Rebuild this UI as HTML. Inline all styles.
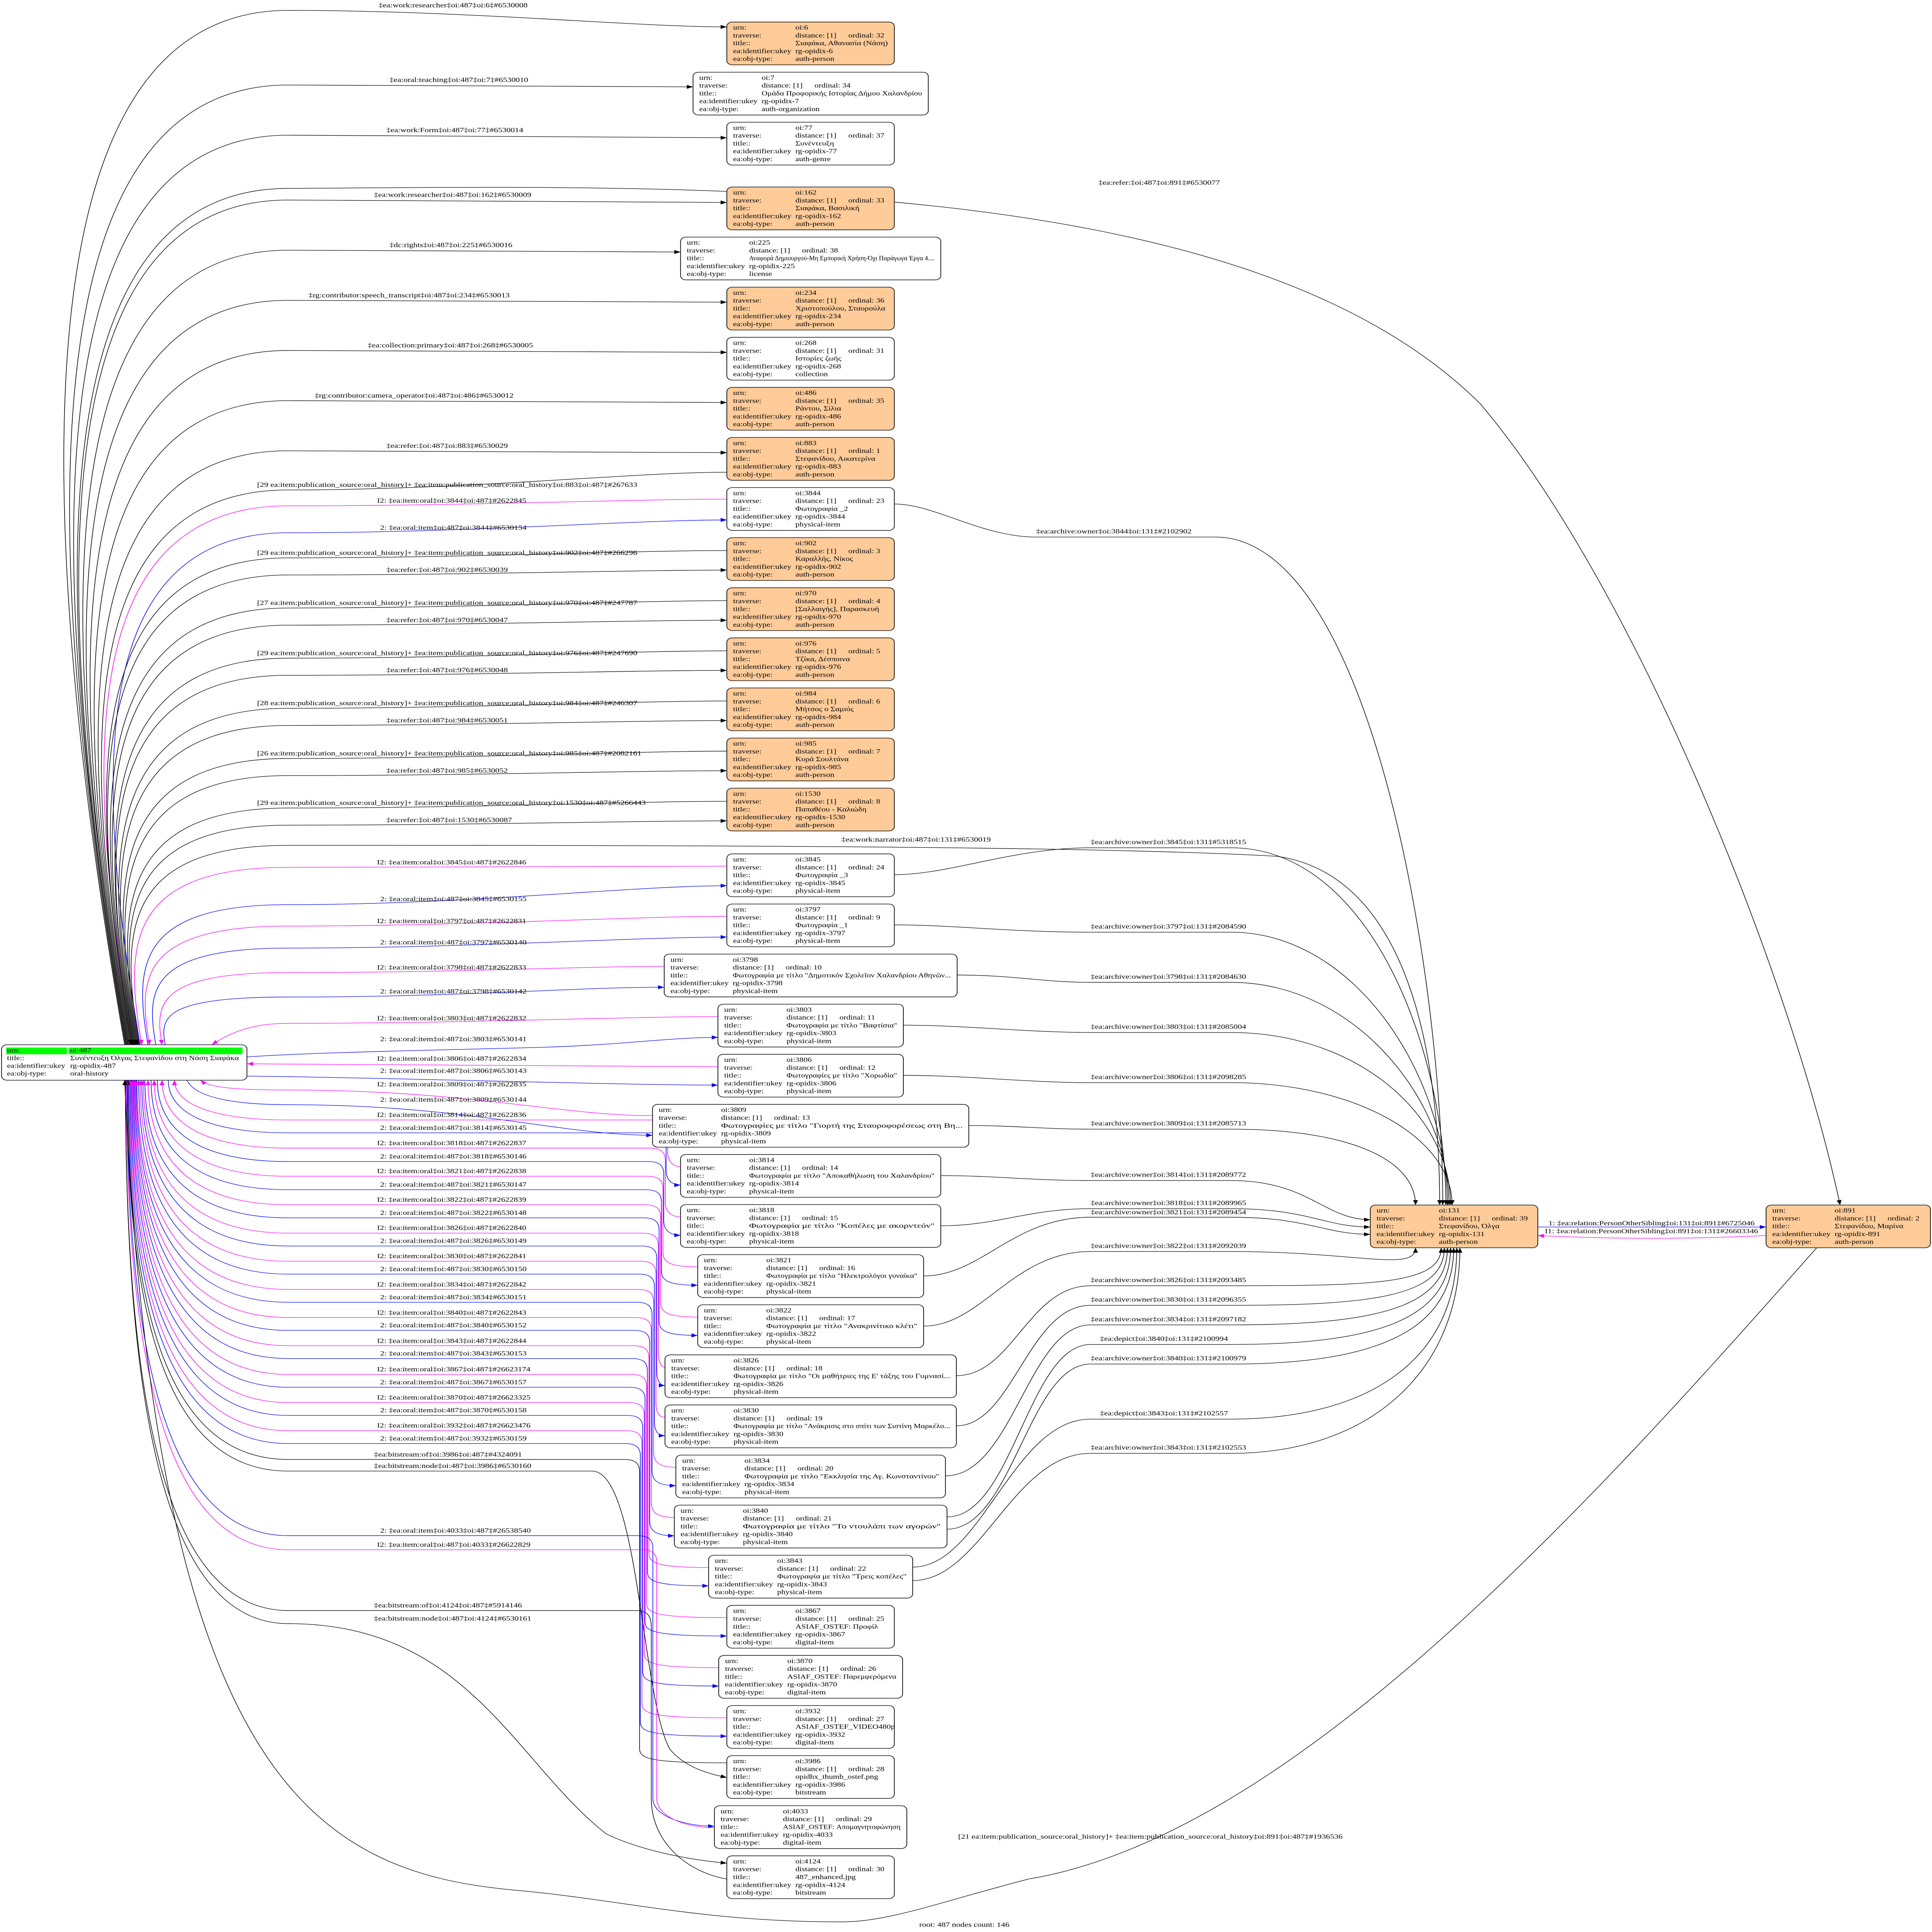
<!DOCTYPE html>
<html><head><meta charset="utf-8"><style>
html,body{margin:0;padding:0;background:#fff;overflow:hidden;width:100vw;height:100vh}
svg{display:block;width:100vw;height:100vh}
text{font-family:"Liberation Serif","DejaVu Serif",serif;fill:#000}
.t text{font-size:5.3px}
.l{font-size:5.4px}
.e{fill:none;stroke-width:.4}
.k{stroke:#000}.b{stroke:#00f}.m{stroke:#f0f}
.n{stroke:#000;stroke-width:.45}
.o{fill:#ffcc99}.w{fill:#fff}
</style></head><body>
<svg xmlns="http://www.w3.org/2000/svg" viewBox="0 0 1240 1579.27" preserveAspectRatio="none">
<defs>
<marker id="ak" viewBox="0 0 10 8" refX="10" refY="4" markerWidth="4" markerHeight="3.2" markerUnits="userSpaceOnUse" orient="auto-start-reverse"><path d="M0,0L10,4L0,8z" fill="#000"/></marker>
<marker id="ab" viewBox="0 0 10 8" refX="10" refY="4" markerWidth="4" markerHeight="3.2" markerUnits="userSpaceOnUse" orient="auto-start-reverse"><path d="M0,0L10,4L0,8z" fill="#00f"/></marker>
<marker id="am" viewBox="0 0 10 8" refX="10" refY="4" markerWidth="4" markerHeight="3.2" markerUnits="userSpaceOnUse" orient="auto-start-reverse"><path d="M0,0L10,4L0,8z" fill="#f0f"/></marker>
</defs>
<rect width="1240" height="1579.27" fill="#fff"/>

<!-- upper edges -->
<path class="e k" marker-end="url(#ak)" d="M80,854 C16.6,389 16.6,8.5 185,8.5 C300,8.5 406.5,22 466.5,22"/>
<path class="e k" marker-end="url(#ak)" d="M80.5,854 C21.7,422.5 21.7,69.5 185,69.5 C300,69.5 384.8,71 444.8,71"/>
<path class="e k" marker-end="url(#ak)" d="M81,854 C25.2,445 25.2,110.5 185,110.5 C300,110.5 406.5,112.6 466.5,112.6"/>
<path class="e k" marker-end="url(#ak)" d="M81,854 C28.5,469 28.5,154 185,154 C450,152 800,140 950,330 C1050,480 1150,800 1181,985"/>
<path class="e k" marker-end="url(#ak)" d="M81.5,854 C29.7,474 29.7,163.5 185,163.5 C300,163.5 406.5,165.5 466.5,165.5"/>
<path class="e k" marker-end="url(#ak)" d="M82,854 C33.3,497 33.3,204.5 185,204.5 C300,204.5 376.8,206 436.8,206"/>
<path class="e k" marker-end="url(#ak)" d="M82,854 C36.4,519 36.4,245.5 185,245.5 C300,245.5 406.5,247 466.5,247"/>
<path class="e k" marker-end="url(#ak)" d="M82.5,854 C39.9,542 39.9,286.5 185,286.5 C300,286.5 406.5,288 466.5,288"/>
<path class="e k" marker-end="url(#ak)" d="M83,854 C43.5,564 43.5,327.5 185,327.5 C300,327.5 406.5,329 466.5,329"/>
<path class="e k" marker-end="url(#ak)" d="M83.5,854 C47.1,587 47.1,368.5 185,368.5 C300,368.5 406.5,370 466.5,370"/>
<path class="e k" marker-start="url(#ak)" d="M84,854 C50,605 50,400.5 185,400.5 C300,400.5 406.5,386 466.5,386"/>
<path class="e m" marker-start="url(#am)" d="M85,854 C52,612 52,413.5 185,413.5 C300,413.5 406.5,408 466.5,408"/>
<path class="e b" marker-end="url(#ab)" d="M90,854 C58.6,624 58.6,435.5 185,435.5 C300,435.5 406.5,425 466.5,425"/>
<path class="e k" marker-start="url(#ak)" d="M84.5,854 C54.6,635 54.6,456 185,456 C300,456 406.5,450 466.5,450"/>
<path class="e k" marker-end="url(#ak)" d="M84.5,854 C55.7,643 55.7,470 185,470 C300,470 406.5,466 466.5,466"/>
<path class="e k" marker-start="url(#ak)" d="M85,854 C58.2,658 58.2,497 185,497 C300,497 406.5,491 466.5,491"/>
<path class="e k" marker-end="url(#ak)" d="M85.5,854 C59.8,665 59.8,511 185,511 C300,511 406.5,507 466.5,507"/>
<path class="e k" marker-start="url(#ak)" d="M86,854 C62.3,680 62.3,538 185,538 C300,538 406.5,532 466.5,532"/>
<path class="e k" marker-end="url(#ak)" d="M86,854 C63.3,688 63.3,552 185,552 C300,552 406.5,548 466.5,548"/>
<path class="e k" marker-start="url(#ak)" d="M86.5,854 C65.9,703 65.9,579 185,579 C300,579 406.5,573 466.5,573"/>
<path class="e k" marker-end="url(#ak)" d="M87,854 C67.4,710 67.4,593 185,593 C300,593 406.5,589 466.5,589"/>
<path class="e k" marker-start="url(#ak)" d="M87.5,854 C69.9,725 69.9,620 185,620 C300,620 406.5,614 466.5,614"/>
<path class="e k" marker-end="url(#ak)" d="M88,854 C71.5,733 71.5,634 185,634 C300,634 406.5,630 466.5,630"/>
<path class="e k" marker-start="url(#ak)" d="M88.5,854 C74,748 74,660.5 185,660.5 C300,660.5 406.5,655 466.5,655"/>
<path class="e k" marker-end="url(#ak)" d="M89,854 C75.5,755 75.5,674.5 185,674.5 C300,674.5 406.5,671 466.5,671"/>
<path class="e k" marker-end="url(#ak)" d="M89.5,854 C77.3,764 77.3,691 185,691 C400,691 700,691 820,700 C900,715 924,850 924,985"/>
<path class="e m" marker-start="url(#am)" d="M91,854 C80.1,774 80.1,709 185,709 C300,709 406.5,708 466.5,708"/>
<path class="e b" marker-end="url(#ab)" d="M95,854 C86.4,791 86.4,739.5 185,739.5 C300,739.5 406.5,724 466.5,724"/>
<path class="e m" marker-start="url(#am)" d="M96,854 C88.7,801 88.7,757 185,757 C300,757 406.5,749 466.5,749"/>
<path class="e b" marker-end="url(#ab)" d="M100,854 C94.1,810.5 94.1,775 185,775 C300,775 406.5,766 466.5,766"/>
<path class="e m" marker-start="url(#am)" d="M104,854 C99.6,821.5 99.6,795 185,795 C300,795 366.3,790 426.3,790"/>
<path class="e b" marker-end="url(#ab)" d="M106,854 C103,832.5 103,815 185,815 C300,815 366.3,807 426.3,807"/>
<path class="e m" marker-start="url(#am)" d="M136,854 C150,842 165,836.5 185,836.5 C300,836.5 400.8,831 460.8,831"/>
<path class="e b" marker-end="url(#ab)" d="M158.5,864 C200,860 300,858 350,856 C400,854 430,848 460.8,848"/>
<path class="e m" marker-start="url(#am)" d="M158.5,869.6 C250,870 400,872 460.8,872"/>
<path class="e b" marker-end="url(#ab)" d="M158.5,879.6 C250,881 400,887 460.8,887"/>
<path class="e m" marker-start="url(#am)" d="M128.6,883 C135,889 150,891 185,891 C300,891 360,912 418.8,912"/>
<path class="e b" marker-end="url(#ab)" d="M120,883 C125,897 150,903 185,903 C300,903 360,928 418.8,928"/>

<!-- lower edges -->
<path class="e m" marker-start="url(#am)" d="M112,883 C112,902.5 137,915.5 185,915.5 L418.5,915.5 C425.5,915.5 428.5,918.5 428.5,925.5 L428.5,941.7 C428.5,949.7 432.5,953.7 436.8,953.7"/>
<path class="e b" marker-end="url(#ab)" d="M108,883 C108,909 133,926 185,926 L417.5,926 C424.5,926 427.5,929 427.5,936 L427.5,956.7 C427.5,964.7 431.5,968.7 436.8,968.7"/>
<path class="e m" marker-start="url(#am)" d="M104,883 C104,916 129,938.5 185,938.5 L417,938.5 C424,938.5 427,941.5 427,948.5 L427,982.7 C427,990.7 431,994.7 436.8,994.7"/>
<path class="e b" marker-end="url(#ab)" d="M101,883 C101,923 126,949.5 185,949.5 L416,949.5 C423,949.5 426,952.5 426,959.5 L426,997.7 C426,1005.7 430,1009.7 436.8,1009.7"/>
<path class="e m" marker-start="url(#am)" d="M99,883 C99,930 124,961.5 185,961.5 L415.5,961.5 C422.5,961.5 425.5,964.5 425.5,971.5 L425.5,1023.6 C425.5,1031.6 429.5,1035.6 447.8,1035.6"/>
<path class="e b" marker-end="url(#ab)" d="M97,883 C97,937 122,972.5 185,972.5 L414.5,972.5 C421.5,972.5 424.5,975.5 424.5,982.5 L424.5,1038.6 C424.5,1046.6 428.5,1050.6 447.8,1050.6"/>
<path class="e m" marker-start="url(#am)" d="M95,883 C95,944 120,984.8 185,984.8 L414,984.8 C421,984.8 424,987.8 424,994.8 L424,1064.6 C424,1072.6 428,1076.6 447.8,1076.6"/>
<path class="e b" marker-end="url(#ab)" d="M93,883 C93,950.5 118,995.5 185,995.5 L413,995.5 C420,995.5 423,998.5 423,1005.5 L423,1079.6 C423,1087.6 427,1091.6 447.8,1091.6"/>
<path class="e m" marker-start="url(#am)" d="M92,883 C92,958 117,1008 185,1008 L412.5,1008 C419.5,1008 422.5,1011 422.5,1018 L422.5,1105.5 C422.5,1113.5 424.5,1117.5 426.8,1117.5"/>
<path class="e b" marker-end="url(#ab)" d="M91,883 C91,964 116,1018.5 185,1018.5 L411.5,1018.5 C418.5,1018.5 421.5,1021.5 421.5,1028.5 L421.5,1120.5 C421.5,1128.5 423.5,1132.5 426.8,1132.5"/>
<path class="e m" marker-start="url(#am)" d="M90,883 C90,972 115,1031 185,1031 L411,1031 C418,1031 421,1034 421,1041 L421,1146.5 C421,1154.5 423,1158.5 426.8,1158.5"/>
<path class="e b" marker-end="url(#ab)" d="M89,883 C89,978 114,1041.5 185,1041.5 L410,1041.5 C417,1041.5 420,1044.5 420,1051.5 L420,1161.5 C420,1169.5 422,1173.5 426.8,1173.5"/>
<path class="e m" marker-start="url(#am)" d="M88,883 C88,985.6 113,1054 185,1054 L409.5,1054 C416.5,1054 419.5,1057 419.5,1064 L419.5,1187.4 C419.5,1195.4 423.5,1199.4 433.8,1199.4"/>
<path class="e b" marker-end="url(#ab)" d="M87.5,883 C87.5,992 112.5,1064.5 185,1064.5 L408.5,1064.5 C415.5,1064.5 418.5,1067.5 418.5,1074.5 L418.5,1202.4 C418.5,1210.4 422.5,1214.4 433.8,1214.4"/>
<path class="e m" marker-start="url(#am)" d="M87,883 C87,999.4 112,1077 185,1077 L408,1077 C415,1077 418,1080 418,1087 L418,1228.4 C418,1236.4 422,1240.4 432.8,1240.4"/>
<path class="e b" marker-end="url(#ab)" d="M86.5,883 C86.5,1005.7 111.5,1087.5 185,1087.5 L407,1087.5 C414,1087.5 417,1090.5 417,1097.5 L417,1243.4 C417,1251.4 421,1255.4 432.8,1255.4"/>
<path class="e m" marker-start="url(#am)" d="M86,883 C86,1013 111,1100 185,1100 L406.5,1100 C413.5,1100 416.5,1103 416.5,1110 L416.5,1269.3 C416.5,1277.3 420.5,1281.3 454.8,1281.3"/>
<path class="e b" marker-end="url(#ab)" d="M85.5,883 C85.5,1019.5 110.5,1110.5 185,1110.5 L405.5,1110.5 C412.5,1110.5 415.5,1113.5 415.5,1120.5 L415.5,1284.3 C415.5,1292.3 419.5,1296.3 454.8,1296.3"/>
<path class="e m" marker-start="url(#am)" d="M85,883 C85,1027 110,1123.5 185,1123.5 L405,1123.5 C412,1123.5 415,1126.5 415,1133.5 L415,1310.3 C415,1318.3 419,1322.3 466.5,1322.3"/>
<path class="e b" marker-end="url(#ab)" d="M84.5,883 C84.5,1033.6 109.5,1134 185,1134 L404,1134 C411,1134 414,1137 414,1144 L414,1325.3 C414,1333.3 418,1337.3 466.5,1337.3"/>
<path class="e m" marker-start="url(#am)" d="M84,883 C84,1041 109,1146.5 185,1146.5 L403.5,1146.5 C410.5,1146.5 413.5,1149.5 413.5,1156.5 L413.5,1351.2 C413.5,1359.2 417.5,1363.2 461.3,1363.2"/>
<path class="e b" marker-end="url(#ab)" d="M83.5,883 C83.5,1047.4 108.5,1157 185,1157 L402.5,1157 C409.5,1157 412.5,1160 412.5,1167 L412.5,1366.2 C412.5,1374.2 416.5,1378.2 461.3,1378.2"/>
<path class="e m" marker-start="url(#am)" d="M83,883 C83,1055 108,1169.5 185,1169.5 L402,1169.5 C409,1169.5 412,1172.5 412,1179.5 L412,1392.2 C412,1400.2 416,1404.2 466.5,1404.2"/>
<path class="e b" marker-end="url(#ab)" d="M82.5,883 C82.5,1061 107.5,1180 185,1180 L401,1180 C408,1180 411,1183 411,1190 L411,1407.2 C411,1415.2 415,1419.2 466.5,1419.2"/>
<path class="e k" marker-start="url(#ak)" d="M82,883 C82,1069 107,1193 185,1193 L400.5,1193 C407.5,1193 410.5,1196 410.5,1203 L410.5,1429 C410.5,1437 414.5,1441 466.5,1441"/>
<path class="e k" marker-end="url(#ak)" d="M81.5,883 C81.5,1075 106.5,1202.5 185,1202.5 L380,1202.5 C410,1202.5 412,1390 430,1430 C440,1445 455,1450 466.5,1453"/>
<path class="e b" marker-end="url(#ab)" d="M81.5,883 C81.5,1106 106.5,1255.3 185,1255.3 L409,1255.3 C416,1255.3 419,1258.3 419,1265.3 L419,1470 C419,1485 440,1492.8 458.5,1492.8"/>
<path class="e m" marker-start="url(#am)" d="M81,883 C81,1113 106,1266.8 185,1266.8 L411.5,1266.8 C418.5,1266.8 421.5,1269.8 421.5,1276.8 L421.5,1470 C421.5,1485 440,1494 458.5,1494"/>
<path class="e k" marker-start="url(#ak)" d="M80.5,883 C80.5,1145 105.5,1316.5 185,1316.5 L408,1316.5 C415,1316.5 418,1320 418,1330 L418,1470 C418,1505 440,1530 466.5,1536"/>
<path class="e k" marker-end="url(#ak)" d="M80.5,883 C80.5,1150 105.5,1327.2 185,1327.2 C300,1327.2 330,1440 389,1499 C410,1512 440,1520 466.5,1523"/>
<path class="e k" marker-end="url(#ak)" d="M1166,1020 C1020,1230 830,1500 660,1536 C600,1556 570,1571 540,1571 C450,1571 400,1553 330,1545 C200,1530 100,1450 80,883"/>

<!-- archive edges to ai:131 -->
<path class="e k" marker-end="url(#ak)" d="M574,412 C600,412 630,439 665,439 L780,439 C880,439 926,800 926,985"/>
<path class="e k" marker-end="url(#ak)" d="M574,715 C610,715 650,693 700,693 L790,693 C880,693 928,860 928,985"/>
<path class="e k" marker-end="url(#ak)" d="M574,756 C610,756 650,762 700,762 L790,762 C870,762 929,880 929,985"/>
<path class="e k" marker-end="url(#ak)" d="M614.3,797 C650,797 670,803 700,803 L790,803 C870,803 930,900 930,985"/>
<path class="e k" marker-end="url(#ak)" d="M579.8,838 C620,838 660,844 700,844 L790,844 C870,844 931,910 931,985"/>
<path class="e k" marker-end="url(#ak)" d="M579.8,879 C620,879 660,885 700,885 L790,885 C870,885 932,930 932,985"/>
<path class="e k" marker-end="url(#ak)" d="M621.8,920 C650,920 670,923 700,923 L790,923 C870,923 908.5,950 908.5,985"/>
<path class="e k" marker-end="url(#ak)" d="M603.8,961 C640,961 660,965 700,965 L790,965 C840,965 850,997 879.5,997"/>
<path class="e k" marker-end="url(#ak)" d="M603.8,1002 C640,1002 660,988 700,988 L790,988 C840,988 850,1003 879.5,1003"/>
<path class="e k" marker-end="url(#ak)" d="M592.8,1043 C630,1043 650,995 700,995 L790,995 C840,995 850,1009 879.5,1009"/>
<path class="e k" marker-end="url(#ak)" d="M592.8,1084 C630,1084 650,1023 700,1023 L790,1023 C870,1023 908.5,1040 908.5,1020"/>
<path class="e k" marker-end="url(#ak)" d="M613.8,1124.5 C650,1124.5 660,1051 700,1051 L790,1051 C880,1051 925,1050 925,1020"/>
<path class="e k" marker-end="url(#ak)" d="M613.8,1165.5 C650,1165.5 660,1067 700,1067 L790,1067 C880,1067 927,1060 927,1020"/>
<path class="e k" marker-end="url(#ak)" d="M606.8,1206.4 C650,1206.4 660,1083 700,1083 L790,1083 C880,1083 929,1070 929,1020"/>
<path class="e k" marker-end="url(#ak)" d="M607.8,1240 C650,1240 660,1099 700,1099 L790,1099 C880,1099 931,1080 931,1020"/>
<path class="e k" marker-end="url(#ak)" d="M607.8,1250 C650,1250 660,1115 700,1115 L790,1115 C880,1115 933,1090 933,1020"/>
<path class="e k" marker-end="url(#ak)" d="M585.8,1281 C630,1281 650,1160 700,1160 L790,1160 C880,1160 935,1110 935,1020"/>
<path class="e k" marker-end="url(#ak)" d="M585.8,1292 C630,1292 650,1188 700,1188 L790,1188 C880,1188 937,1120 937,1020"/>
<path class="e b" marker-end="url(#ab)" d="M987,1003 L1133.5,1003"/>
<path class="e m" marker-end="url(#am)" d="M1133.5,1010 C1080,1013 1040,1013 987,1010"/>

<!-- edge labels -->
<g class="l">
<text x="243" y="6">‡ea:work:researcher‡oi:487‡oi:6‡#6530008</text>
<text x="250" y="67">‡ea:oral:teaching‡oi:487‡oi:7‡#6530010</text>
<text x="248" y="108">‡ea:work:Form‡oi:487‡oi:77‡#6530014</text>
<text x="705" y="151">‡ea:refer:‡oi:487‡oi:891‡#6530077</text>
<text x="240" y="161">‡ea:work:researcher‡oi:487‡oi:162‡#6530009</text>
<text x="250" y="202">‡dc:rights‡oi:487‡oi:225‡#6530016</text>
<text x="198" y="243">‡rg:contributor:speech_transcript‡oi:487‡oi:234‡#6530013</text>
<text x="236" y="284">‡ea:collection:primary‡oi:487‡oi:268‡#6530005</text>
<text x="202" y="325">‡rg:contributor:camera_operator‡oi:487‡oi:486‡#6530012</text>
<text x="248" y="366">‡ea:refer:‡oi:487‡oi:883‡#6530029</text>
<text x="165" y="398">[29 ea:item:publication_source:oral_history]+ ‡ea:item:publication_source:oral_history‡oi:883‡oi:487‡#267633</text>
<text x="242" y="411">I2: ‡ea:item:oral‡oi:3844‡oi:487‡#2622845</text>
<text x="244" y="433">2: ‡ea:oral:item‡oi:487‡oi:3844‡#6530154</text>
<text x="165" y="453.5">[29 ea:item:publication_source:oral_history]+ ‡ea:item:publication_source:oral_history‡oi:902‡oi:487‡#266296</text>
<text x="248" y="467.5">‡ea:refer:‡oi:487‡oi:902‡#6530039</text>
<text x="165" y="494.5">[27 ea:item:publication_source:oral_history]+ ‡ea:item:publication_source:oral_history‡oi:970‡oi:487‡#247787</text>
<text x="248" y="508.5">‡ea:refer:‡oi:487‡oi:970‡#6530047</text>
<text x="165" y="535.5">[29 ea:item:publication_source:oral_history]+ ‡ea:item:publication_source:oral_history‡oi:976‡oi:487‡#247690</text>
<text x="248" y="549.5">‡ea:refer:‡oi:487‡oi:976‡#6530048</text>
<text x="165" y="576.5">[28 ea:item:publication_source:oral_history]+ ‡ea:item:publication_source:oral_history‡oi:984‡oi:487‡#246307</text>
<text x="248" y="590.5">‡ea:refer:‡oi:487‡oi:984‡#6530051</text>
<text x="165" y="617.5">[26 ea:item:publication_source:oral_history]+ ‡ea:item:publication_source:oral_history‡oi:985‡oi:487‡#2082161</text>
<text x="248" y="631.5">‡ea:refer:‡oi:487‡oi:985‡#6530052</text>
<text x="165" y="658">[29 ea:item:publication_source:oral_history]+ ‡ea:item:publication_source:oral_history‡oi:1530‡oi:487‡#5266443</text>
<text x="248" y="672">‡ea:refer:‡oi:487‡oi:1530‡#6530087</text>
<text x="540" y="688">‡ea:work:narrator‡oi:487‡oi:131‡#6530019</text>
<text x="242" y="706.5">I2: ‡ea:item:oral‡oi:3845‡oi:487‡#2622846</text>
<text x="244" y="736.6">2: ‡ea:oral:item‡oi:487‡oi:3845‡#6530155</text>
<text x="242" y="754.5">I2: ‡ea:item:oral‡oi:3797‡oi:487‡#2622831</text>
<text x="244" y="772">2: ‡ea:oral:item‡oi:487‡oi:3797‡#6530140</text>
<text x="242" y="792.5">I2: ‡ea:item:oral‡oi:3798‡oi:487‡#2622833</text>
<text x="244" y="812">2: ‡ea:oral:item‡oi:487‡oi:3798‡#6530142</text>
<text x="242" y="834">I2: ‡ea:item:oral‡oi:3803‡oi:487‡#2622832</text>
<text x="244" y="851">2: ‡ea:oral:item‡oi:487‡oi:3803‡#6530141</text>
<text x="242" y="867">I2: ‡ea:item:oral‡oi:3806‡oi:487‡#2622834</text>
<text x="244" y="877">2: ‡ea:oral:item‡oi:487‡oi:3806‡#6530143</text>
<text x="242" y="888">I2: ‡ea:item:oral‡oi:3809‡oi:487‡#2622835</text>
<text x="244" y="900.5">2: ‡ea:oral:item‡oi:487‡oi:3809‡#6530144</text>
<text x="242" y="913">I2: ‡ea:item:oral‡oi:3814‡oi:487‡#2622836</text>
<text x="244" y="923.6">2: ‡ea:oral:item‡oi:487‡oi:3814‡#6530145</text>
<text x="242" y="936">I2: ‡ea:item:oral‡oi:3818‡oi:487‡#2622837</text>
<text x="244" y="947">2: ‡ea:oral:item‡oi:487‡oi:3818‡#6530146</text>
<text x="242" y="959">I2: ‡ea:item:oral‡oi:3821‡oi:487‡#2622838</text>
<text x="244" y="970">2: ‡ea:oral:item‡oi:487‡oi:3821‡#6530147</text>
<text x="242" y="982.3">I2: ‡ea:item:oral‡oi:3822‡oi:487‡#2622839</text>
<text x="244" y="993">2: ‡ea:oral:item‡oi:487‡oi:3822‡#6530148</text>
<text x="242" y="1005.4">I2: ‡ea:item:oral‡oi:3826‡oi:487‡#2622840</text>
<text x="244" y="1016">2: ‡ea:oral:item‡oi:487‡oi:3826‡#6530149</text>
<text x="242" y="1028.5">I2: ‡ea:item:oral‡oi:3830‡oi:487‡#2622841</text>
<text x="244" y="1039">2: ‡ea:oral:item‡oi:487‡oi:3830‡#6530150</text>
<text x="242" y="1051.6">I2: ‡ea:item:oral‡oi:3834‡oi:487‡#2622842</text>
<text x="244" y="1062">2: ‡ea:oral:item‡oi:487‡oi:3834‡#6530151</text>
<text x="242" y="1074.7">I2: ‡ea:item:oral‡oi:3840‡oi:487‡#2622843</text>
<text x="244" y="1085">2: ‡ea:oral:item‡oi:487‡oi:3840‡#6530152</text>
<text x="242" y="1097.8">I2: ‡ea:item:oral‡oi:3843‡oi:487‡#2622844</text>
<text x="244" y="1108">2: ‡ea:oral:item‡oi:487‡oi:3843‡#6530153</text>
<text x="242" y="1121">I2: ‡ea:item:oral‡oi:3867‡oi:487‡#26623174</text>
<text x="244" y="1131.5">2: ‡ea:oral:item‡oi:487‡oi:3867‡#6530157</text>
<text x="242" y="1144">I2: ‡ea:item:oral‡oi:3870‡oi:487‡#26623325</text>
<text x="244" y="1154.5">2: ‡ea:oral:item‡oi:487‡oi:3870‡#6530158</text>
<text x="242" y="1167">I2: ‡ea:item:oral‡oi:3932‡oi:487‡#26623476</text>
<text x="244" y="1177.5">2: ‡ea:oral:item‡oi:487‡oi:3932‡#6530159</text>
<text x="240" y="1190.6">‡ea:bitstream:of‡oi:3986‡oi:487‡#4324091</text>
<text x="240" y="1200">‡ea:bitstream:node‡oi:487‡oi:3986‡#6530160</text>
<text x="244" y="1252.8">2: ‡ea:oral:item‡oi:4033‡oi:487‡#26538540</text>
<text x="242" y="1264.3">I2: ‡ea:item:oral‡oi:487‡oi:4033‡#26622829</text>
<text x="240" y="1314">‡ea:bitstream:of‡oi:4124‡oi:487‡#5914146</text>
<text x="240" y="1324.7">‡ea:bitstream:node‡oi:487‡oi:4124‡#6530161</text>
<text x="615" y="1503">[21 ea:item:publication_source:oral_history]+ ‡ea:item:publication_source:oral_history‡oi:891‡oi:487‡#1936536</text>
<text x="665" y="436">‡ea:archive:owner‡oi:3844‡oi:131‡#2102902</text>
<text x="700" y="690">‡ea:archive:owner‡oi:3845‡oi:131‡#5318515</text>
<text x="700" y="759">‡ea:archive:owner‡oi:3797‡oi:131‡#2084590</text>
<text x="700" y="800">‡ea:archive:owner‡oi:3798‡oi:131‡#2084630</text>
<text x="700" y="841">‡ea:archive:owner‡oi:3803‡oi:131‡#2085004</text>
<text x="700" y="882">‡ea:archive:owner‡oi:3806‡oi:131‡#2098285</text>
<text x="700" y="920">‡ea:archive:owner‡oi:3809‡oi:131‡#2085713</text>
<text x="700" y="962">‡ea:archive:owner‡oi:3814‡oi:131‡#2089772</text>
<text x="700" y="985">‡ea:archive:owner‡oi:3818‡oi:131‡#2089965</text>
<text x="700" y="992.5">‡ea:archive:owner‡oi:3821‡oi:131‡#2089454</text>
<text x="700" y="1020">‡ea:archive:owner‡oi:3822‡oi:131‡#2092039</text>
<text x="700" y="1048">‡ea:archive:owner‡oi:3826‡oi:131‡#2093485</text>
<text x="700" y="1064">‡ea:archive:owner‡oi:3830‡oi:131‡#2096355</text>
<text x="700" y="1080">‡ea:archive:owner‡oi:3834‡oi:131‡#2097182</text>
<text x="706" y="1096">‡ea:depict‡oi:3840‡oi:131‡#2100994</text>
<text x="700" y="1112">‡ea:archive:owner‡oi:3840‡oi:131‡#2100979</text>
<text x="706" y="1157">‡ea:depict‡oi:3843‡oi:131‡#2102557</text>
<text x="700" y="1185">‡ea:archive:owner‡oi:3843‡oi:131‡#2102553</text>
<text x="1060" y="1001.5" text-anchor="middle">1: ‡ea:relation:PersonOtherSibling‡oi:131‡oi:891‡#6725046</text>
<text x="1060" y="1008" text-anchor="middle">I1: ‡ea:relation:PersonOtherSibling‡oi:891‡oi:131‡#26603346</text>
<text x="590" y="1575">root: 487 nodes count: 146</text>
</g>

<!-- root node -->
<g class="t" transform="translate(1,854)">
<rect class="n w" x="0" y="0" width="157.5" height="29" rx="3.5"/>
<rect x="3" y="2.3" width="39" height="5.5" fill="#0f0"/>
<rect x="43" y="2.3" width="111.6" height="5.5" fill="#0f0"/>
<text x="3.5" y="6.2">urn:</text><text x="44" y="6.2">oi:487</text>
<text x="3.5" y="12.6">title::</text><text x="44" y="12.6">Συνέντευξη Όλγας Στεφανίδου στη Νάση Σιαφάκα</text>
<text x="3.5" y="18.9">ea:identifier:ukey</text><text x="44" y="18.9">rg-opidix-487</text>
<text x="3.5" y="25.2">ea:obj-type:</text><text x="44" y="25.2">oral-history</text>
</g>

<!-- nodes -->
<g class="t" transform="translate(466.5,18)"><rect class="n o" width="107.5" height="35" rx="3.5"/><text x="4" y="6.2">urn:</text><text x="44" y="6.2">oi:6</text><text x="4" y="12.6">traverse:</text><text x="44" y="12.6">distance: [1]</text><text x="78" y="12.6">ordinal: 32</text><text x="4" y="19">title::</text><text x="44" y="19">Σιαφάκα, Αθανασία (Νάση)</text><text x="4" y="25.4">ea:identifier:ukey</text><text x="44" y="25.4">rg-opidix-6</text><text x="4" y="31.8">ea:obj-type:</text><text x="44" y="31.8">auth-person</text></g>
<g class="t" transform="translate(444.8,59)"><rect class="n w" width="151" height="35" rx="3.5"/><text x="4" y="6.2">urn:</text><text x="44" y="6.2">oi:7</text><text x="4" y="12.6">traverse:</text><text x="44" y="12.6">distance: [1]</text><text x="78" y="12.6">ordinal: 34</text><text x="4" y="19">title::</text><text x="44" y="19" textLength="103" lengthAdjust="spacingAndGlyphs">Ομάδα Προφορικής Ιστορίας Δήμου Χαλανδρίου</text><text x="4" y="25.4">ea:identifier:ukey</text><text x="44" y="25.4">rg-opidix-7</text><text x="4" y="31.8">ea:obj-type:</text><text x="44" y="31.8">auth-organization</text></g>
<g class="t" transform="translate(466.5,99.9)"><rect class="n w" width="107.5" height="35" rx="3.5"/><text x="4" y="6.2">urn:</text><text x="44" y="6.2">oi:77</text><text x="4" y="12.6">traverse:</text><text x="44" y="12.6">distance: [1]</text><text x="78" y="12.6">ordinal: 37</text><text x="4" y="19">title::</text><text x="44" y="19">Συνέντευξη</text><text x="4" y="25.4">ea:identifier:ukey</text><text x="44" y="25.4">rg-opidix-77</text><text x="4" y="31.8">ea:obj-type:</text><text x="44" y="31.8">auth-genre</text></g>
<g class="t" transform="translate(466.5,152.85)"><rect class="n o" width="107.5" height="35" rx="3.5"/><text x="4" y="6.2">urn:</text><text x="44" y="6.2">oi:162</text><text x="4" y="12.6">traverse:</text><text x="44" y="12.6">distance: [1]</text><text x="78" y="12.6">ordinal: 33</text><text x="4" y="19">title::</text><text x="44" y="19">Σιαφάκα, Βασιλική</text><text x="4" y="25.4">ea:identifier:ukey</text><text x="44" y="25.4">rg-opidix-162</text><text x="4" y="31.8">ea:obj-type:</text><text x="44" y="31.8">auth-person</text></g>
<g class="t" transform="translate(436.8,193.8)"><rect class="n w" width="167" height="35" rx="3.5"/><text x="4" y="6.2">urn:</text><text x="44" y="6.2">oi:225</text><text x="4" y="12.6">traverse:</text><text x="44" y="12.6">distance: [1]</text><text x="78" y="12.6">ordinal: 38</text><text x="4" y="19">title::</text><text x="44" y="19" textLength="119" lengthAdjust="spacingAndGlyphs">Αναφορά Δημιουργού-Μη Εμπορική Χρήση-Όχι Παράγωγα Έργα 4....</text><text x="4" y="25.4">ea:identifier:ukey</text><text x="44" y="25.4">rg-opidix-225</text><text x="4" y="31.8">ea:obj-type:</text><text x="44" y="31.8">license</text></g>
<g class="t" transform="translate(466.5,234.75)"><rect class="n o" width="107.5" height="35" rx="3.5"/><text x="4" y="6.2">urn:</text><text x="44" y="6.2">oi:234</text><text x="4" y="12.6">traverse:</text><text x="44" y="12.6">distance: [1]</text><text x="78" y="12.6">ordinal: 36</text><text x="4" y="19">title::</text><text x="44" y="19">Χριστοπούλου, Σταυρούλα</text><text x="4" y="25.4">ea:identifier:ukey</text><text x="44" y="25.4">rg-opidix-234</text><text x="4" y="31.8">ea:obj-type:</text><text x="44" y="31.8">auth-person</text></g>
<g class="t" transform="translate(466.5,275.7)"><rect class="n w" width="107.5" height="35" rx="3.5"/><text x="4" y="6.2">urn:</text><text x="44" y="6.2">oi:268</text><text x="4" y="12.6">traverse:</text><text x="44" y="12.6">distance: [1]</text><text x="78" y="12.6">ordinal: 31</text><text x="4" y="19">title::</text><text x="44" y="19">Ιστορίες ζωής</text><text x="4" y="25.4">ea:identifier:ukey</text><text x="44" y="25.4">rg-opidix-268</text><text x="4" y="31.8">ea:obj-type:</text><text x="44" y="31.8">collection</text></g>
<g class="t" transform="translate(466.5,316.65)"><rect class="n o" width="107.5" height="35" rx="3.5"/><text x="4" y="6.2">urn:</text><text x="44" y="6.2">oi:486</text><text x="4" y="12.6">traverse:</text><text x="44" y="12.6">distance: [1]</text><text x="78" y="12.6">ordinal: 35</text><text x="4" y="19">title::</text><text x="44" y="19">Ράντου, Σίλια</text><text x="4" y="25.4">ea:identifier:ukey</text><text x="44" y="25.4">rg-opidix-486</text><text x="4" y="31.8">ea:obj-type:</text><text x="44" y="31.8">auth-person</text></g>
<g class="t" transform="translate(466.5,357.6)"><rect class="n o" width="107.5" height="35" rx="3.5"/><text x="4" y="6.2">urn:</text><text x="44" y="6.2">oi:883</text><text x="4" y="12.6">traverse:</text><text x="44" y="12.6">distance: [1]</text><text x="78" y="12.6">ordinal: 1</text><text x="4" y="19">title::</text><text x="44" y="19">Στεφανίδου, Αικατερίνα</text><text x="4" y="25.4">ea:identifier:ukey</text><text x="44" y="25.4">rg-opidix-883</text><text x="4" y="31.8">ea:obj-type:</text><text x="44" y="31.8">auth-person</text></g>
<g class="t" transform="translate(466.5,398.55)"><rect class="n w" width="107.5" height="35" rx="3.5"/><text x="4" y="6.2">urn:</text><text x="44" y="6.2">oi:3844</text><text x="4" y="12.6">traverse:</text><text x="44" y="12.6">distance: [1]</text><text x="78" y="12.6">ordinal: 23</text><text x="4" y="19">title::</text><text x="44" y="19">Φωτογραφία _2</text><text x="4" y="25.4">ea:identifier:ukey</text><text x="44" y="25.4">rg-opidix-3844</text><text x="4" y="31.8">ea:obj-type:</text><text x="44" y="31.8">physical-item</text></g>
<g class="t" transform="translate(466.5,439.5)"><rect class="n o" width="107.5" height="35" rx="3.5"/><text x="4" y="6.2">urn:</text><text x="44" y="6.2">oi:902</text><text x="4" y="12.6">traverse:</text><text x="44" y="12.6">distance: [1]</text><text x="78" y="12.6">ordinal: 3</text><text x="4" y="19">title::</text><text x="44" y="19">Καραλλής, Νίκος</text><text x="4" y="25.4">ea:identifier:ukey</text><text x="44" y="25.4">rg-opidix-902</text><text x="4" y="31.8">ea:obj-type:</text><text x="44" y="31.8">auth-person</text></g>
<g class="t" transform="translate(466.5,480.45)"><rect class="n o" width="107.5" height="35" rx="3.5"/><text x="4" y="6.2">urn:</text><text x="44" y="6.2">oi:970</text><text x="4" y="12.6">traverse:</text><text x="44" y="12.6">distance: [1]</text><text x="78" y="12.6">ordinal: 4</text><text x="4" y="19">title::</text><text x="44" y="19">[Σαλλαιγής], Παρασκευή</text><text x="4" y="25.4">ea:identifier:ukey</text><text x="44" y="25.4">rg-opidix-970</text><text x="4" y="31.8">ea:obj-type:</text><text x="44" y="31.8">auth-person</text></g>
<g class="t" transform="translate(466.5,521.4)"><rect class="n o" width="107.5" height="35" rx="3.5"/><text x="4" y="6.2">urn:</text><text x="44" y="6.2">oi:976</text><text x="4" y="12.6">traverse:</text><text x="44" y="12.6">distance: [1]</text><text x="78" y="12.6">ordinal: 5</text><text x="4" y="19">title::</text><text x="44" y="19">Τζίκα, Δέσποινα</text><text x="4" y="25.4">ea:identifier:ukey</text><text x="44" y="25.4">rg-opidix-976</text><text x="4" y="31.8">ea:obj-type:</text><text x="44" y="31.8">auth-person</text></g>
<g class="t" transform="translate(466.5,562.35)"><rect class="n o" width="107.5" height="35" rx="3.5"/><text x="4" y="6.2">urn:</text><text x="44" y="6.2">oi:984</text><text x="4" y="12.6">traverse:</text><text x="44" y="12.6">distance: [1]</text><text x="78" y="12.6">ordinal: 6</text><text x="4" y="19">title::</text><text x="44" y="19">Μήτσος ο Σαμιός</text><text x="4" y="25.4">ea:identifier:ukey</text><text x="44" y="25.4">rg-opidix-984</text><text x="4" y="31.8">ea:obj-type:</text><text x="44" y="31.8">auth-person</text></g>
<g class="t" transform="translate(466.5,603.3)"><rect class="n o" width="107.5" height="35" rx="3.5"/><text x="4" y="6.2">urn:</text><text x="44" y="6.2">oi:985</text><text x="4" y="12.6">traverse:</text><text x="44" y="12.6">distance: [1]</text><text x="78" y="12.6">ordinal: 7</text><text x="4" y="19">title::</text><text x="44" y="19">Κυρά Σουλτάνα</text><text x="4" y="25.4">ea:identifier:ukey</text><text x="44" y="25.4">rg-opidix-985</text><text x="4" y="31.8">ea:obj-type:</text><text x="44" y="31.8">auth-person</text></g>
<g class="t" transform="translate(466.5,644.25)"><rect class="n o" width="107.5" height="35" rx="3.5"/><text x="4" y="6.2">urn:</text><text x="44" y="6.2">oi:1530</text><text x="4" y="12.6">traverse:</text><text x="44" y="12.6">distance: [1]</text><text x="78" y="12.6">ordinal: 8</text><text x="4" y="19">title::</text><text x="44" y="19">Παπαθέου - Καλιώδη</text><text x="4" y="25.4">ea:identifier:ukey</text><text x="44" y="25.4">rg-opidix-1530</text><text x="4" y="31.8">ea:obj-type:</text><text x="44" y="31.8">auth-person</text></g>
<g class="t" transform="translate(466.5,698)"><rect class="n w" width="107.5" height="35" rx="3.5"/><text x="4" y="6.2">urn:</text><text x="44" y="6.2">oi:3845</text><text x="4" y="12.6">traverse:</text><text x="44" y="12.6">distance: [1]</text><text x="78" y="12.6">ordinal: 24</text><text x="4" y="19">title::</text><text x="44" y="19">Φωτογραφία _3</text><text x="4" y="25.4">ea:identifier:ukey</text><text x="44" y="25.4">rg-opidix-3845</text><text x="4" y="31.8">ea:obj-type:</text><text x="44" y="31.8">physical-item</text></g>
<g class="t" transform="translate(466.5,738.95)"><rect class="n w" width="107.5" height="35" rx="3.5"/><text x="4" y="6.2">urn:</text><text x="44" y="6.2">oi:3797</text><text x="4" y="12.6">traverse:</text><text x="44" y="12.6">distance: [1]</text><text x="78" y="12.6">ordinal: 9</text><text x="4" y="19">title::</text><text x="44" y="19">Φωτογραφία _1</text><text x="4" y="25.4">ea:identifier:ukey</text><text x="44" y="25.4">rg-opidix-3797</text><text x="4" y="31.8">ea:obj-type:</text><text x="44" y="31.8">physical-item</text></g>
<g class="t" transform="translate(426.3,779.9)"><rect class="n w" width="188" height="35" rx="3.5"/><text x="4" y="6.2">urn:</text><text x="44" y="6.2">oi:3798</text><text x="4" y="12.6">traverse:</text><text x="44" y="12.6">distance: [1]</text><text x="78" y="12.6">ordinal: 10</text><text x="4" y="19">title::</text><text x="44" y="19" textLength="140" lengthAdjust="spacingAndGlyphs">Φωτογραφία με τίτλο &quot;Δημοτικόν Σχολεῖον Χαλανδρίου Αθηνῶν...</text><text x="4" y="25.4">ea:identifier:ukey</text><text x="44" y="25.4">rg-opidix-3798</text><text x="4" y="31.8">ea:obj-type:</text><text x="44" y="31.8">physical-item</text></g>
<g class="t" transform="translate(460.8,820.85)"><rect class="n w" width="119" height="35" rx="3.5"/><text x="4" y="6.2">urn:</text><text x="44" y="6.2">oi:3803</text><text x="4" y="12.6">traverse:</text><text x="44" y="12.6">distance: [1]</text><text x="78" y="12.6">ordinal: 11</text><text x="4" y="19">title::</text><text x="44" y="19" textLength="71" lengthAdjust="spacingAndGlyphs">Φωτογραφία με τίτλο &quot;Βαφτίσια&quot;</text><text x="4" y="25.4">ea:identifier:ukey</text><text x="44" y="25.4">rg-opidix-3803</text><text x="4" y="31.8">ea:obj-type:</text><text x="44" y="31.8">physical-item</text></g>
<g class="t" transform="translate(460.8,861.8)"><rect class="n w" width="119" height="35" rx="3.5"/><text x="4" y="6.2">urn:</text><text x="44" y="6.2">oi:3806</text><text x="4" y="12.6">traverse:</text><text x="44" y="12.6">distance: [1]</text><text x="78" y="12.6">ordinal: 12</text><text x="4" y="19">title::</text><text x="44" y="19" textLength="71" lengthAdjust="spacingAndGlyphs">Φωτογραφίες με τίτλο &quot;Χορωδία&quot;</text><text x="4" y="25.4">ea:identifier:ukey</text><text x="44" y="25.4">rg-opidix-3806</text><text x="4" y="31.8">ea:obj-type:</text><text x="44" y="31.8">physical-item</text></g>
<g class="t" transform="translate(418.8,902.75)"><rect class="n w" width="203" height="35" rx="3.5"/><text x="4" y="6.2">urn:</text><text x="44" y="6.2">oi:3809</text><text x="4" y="12.6">traverse:</text><text x="44" y="12.6">distance: [1]</text><text x="78" y="12.6">ordinal: 13</text><text x="4" y="19">title::</text><text x="44" y="19" textLength="155" lengthAdjust="spacingAndGlyphs">Φωτογραφίες με τίτλο &quot;Γιορτή της Σταυροφορέσεως στη Βη...</text><text x="4" y="25.4">ea:identifier:ukey</text><text x="44" y="25.4">rg-opidix-3809</text><text x="4" y="31.8">ea:obj-type:</text><text x="44" y="31.8">physical-item</text></g>
<g class="t" transform="translate(436.8,943.7)"><rect class="n w" width="167" height="35" rx="3.5"/><text x="4" y="6.2">urn:</text><text x="44" y="6.2">oi:3814</text><text x="4" y="12.6">traverse:</text><text x="44" y="12.6">distance: [1]</text><text x="78" y="12.6">ordinal: 14</text><text x="4" y="19">title::</text><text x="44" y="19" textLength="119" lengthAdjust="spacingAndGlyphs">Φωτογραφία με τίτλο &quot;Αποκαθήλωση του Χαλανδρίου&quot;</text><text x="4" y="25.4">ea:identifier:ukey</text><text x="44" y="25.4">rg-opidix-3814</text><text x="4" y="31.8">ea:obj-type:</text><text x="44" y="31.8">physical-item</text></g>
<g class="t" transform="translate(436.8,984.65)"><rect class="n w" width="167" height="35" rx="3.5"/><text x="4" y="6.2">urn:</text><text x="44" y="6.2">oi:3818</text><text x="4" y="12.6">traverse:</text><text x="44" y="12.6">distance: [1]</text><text x="78" y="12.6">ordinal: 15</text><text x="4" y="19">title::</text><text x="44" y="19" textLength="119" lengthAdjust="spacingAndGlyphs">Φωτογραφία με τίτλο &quot;Κοπέλες με ακορντεόν&quot;</text><text x="4" y="25.4">ea:identifier:ukey</text><text x="44" y="25.4">rg-opidix-3818</text><text x="4" y="31.8">ea:obj-type:</text><text x="44" y="31.8">physical-item</text></g>
<g class="t" transform="translate(447.8,1025.6)"><rect class="n w" width="145" height="35" rx="3.5"/><text x="4" y="6.2">urn:</text><text x="44" y="6.2">oi:3821</text><text x="4" y="12.6">traverse:</text><text x="44" y="12.6">distance: [1]</text><text x="78" y="12.6">ordinal: 16</text><text x="4" y="19">title::</text><text x="44" y="19" textLength="97" lengthAdjust="spacingAndGlyphs">Φωτογραφία με τίτλο &quot;Ηλεκτρολόγοι γυναίκα&quot;</text><text x="4" y="25.4">ea:identifier:ukey</text><text x="44" y="25.4">rg-opidix-3821</text><text x="4" y="31.8">ea:obj-type:</text><text x="44" y="31.8">physical-item</text></g>
<g class="t" transform="translate(447.8,1066.55)"><rect class="n w" width="145" height="35" rx="3.5"/><text x="4" y="6.2">urn:</text><text x="44" y="6.2">oi:3822</text><text x="4" y="12.6">traverse:</text><text x="44" y="12.6">distance: [1]</text><text x="78" y="12.6">ordinal: 17</text><text x="4" y="19">title::</text><text x="44" y="19" textLength="97" lengthAdjust="spacingAndGlyphs">Φωτογραφία με τίτλο &quot;Ανακρινίτικο κλέτι&quot;</text><text x="4" y="25.4">ea:identifier:ukey</text><text x="44" y="25.4">rg-opidix-3822</text><text x="4" y="31.8">ea:obj-type:</text><text x="44" y="31.8">physical-item</text></g>
<g class="t" transform="translate(426.8,1107.5)"><rect class="n w" width="187" height="35" rx="3.5"/><text x="4" y="6.2">urn:</text><text x="44" y="6.2">oi:3826</text><text x="4" y="12.6">traverse:</text><text x="44" y="12.6">distance: [1]</text><text x="78" y="12.6">ordinal: 18</text><text x="4" y="19">title::</text><text x="44" y="19" textLength="139" lengthAdjust="spacingAndGlyphs">Φωτογραφία με τίτλο &quot;Οι μαθήτριες της Ε' τάξης του Γυμνασί...</text><text x="4" y="25.4">ea:identifier:ukey</text><text x="44" y="25.4">rg-opidix-3826</text><text x="4" y="31.8">ea:obj-type:</text><text x="44" y="31.8">physical-item</text></g>
<g class="t" transform="translate(426.8,1148.45)"><rect class="n w" width="187" height="35" rx="3.5"/><text x="4" y="6.2">urn:</text><text x="44" y="6.2">oi:3830</text><text x="4" y="12.6">traverse:</text><text x="44" y="12.6">distance: [1]</text><text x="78" y="12.6">ordinal: 19</text><text x="4" y="19">title::</text><text x="44" y="19" textLength="139" lengthAdjust="spacingAndGlyphs">Φωτογραφία με τίτλο &quot;Ανάκρισις στο σπίτι των Σιστίνη Μαρκέλο...</text><text x="4" y="25.4">ea:identifier:ukey</text><text x="44" y="25.4">rg-opidix-3830</text><text x="4" y="31.8">ea:obj-type:</text><text x="44" y="31.8">physical-item</text></g>
<g class="t" transform="translate(433.8,1189.4)"><rect class="n w" width="173" height="35" rx="3.5"/><text x="4" y="6.2">urn:</text><text x="44" y="6.2">oi:3834</text><text x="4" y="12.6">traverse:</text><text x="44" y="12.6">distance: [1]</text><text x="78" y="12.6">ordinal: 20</text><text x="4" y="19">title::</text><text x="44" y="19" textLength="125" lengthAdjust="spacingAndGlyphs">Φωτογραφία με τίτλο &quot;Εκκλησία της Αγ. Κωνσταντίνου&quot;</text><text x="4" y="25.4">ea:identifier:ukey</text><text x="44" y="25.4">rg-opidix-3834</text><text x="4" y="31.8">ea:obj-type:</text><text x="44" y="31.8">physical-item</text></g>
<g class="t" transform="translate(432.8,1230.35)"><rect class="n w" width="175" height="35" rx="3.5"/><text x="4" y="6.2">urn:</text><text x="44" y="6.2">oi:3840</text><text x="4" y="12.6">traverse:</text><text x="44" y="12.6">distance: [1]</text><text x="78" y="12.6">ordinal: 21</text><text x="4" y="19">title::</text><text x="44" y="19" textLength="127" lengthAdjust="spacingAndGlyphs">Φωτογραφία με τίτλο &quot;Το ντουλάπι των αγορών&quot;</text><text x="4" y="25.4">ea:identifier:ukey</text><text x="44" y="25.4">rg-opidix-3840</text><text x="4" y="31.8">ea:obj-type:</text><text x="44" y="31.8">physical-item</text></g>
<g class="t" transform="translate(454.8,1271.3)"><rect class="n w" width="131" height="35" rx="3.5"/><text x="4" y="6.2">urn:</text><text x="44" y="6.2">oi:3843</text><text x="4" y="12.6">traverse:</text><text x="44" y="12.6">distance: [1]</text><text x="78" y="12.6">ordinal: 22</text><text x="4" y="19">title::</text><text x="44" y="19" textLength="83" lengthAdjust="spacingAndGlyphs">Φωτογραφία με τίτλο &quot;Τρεις κοπέλες&quot;</text><text x="4" y="25.4">ea:identifier:ukey</text><text x="44" y="25.4">rg-opidix-3843</text><text x="4" y="31.8">ea:obj-type:</text><text x="44" y="31.8">physical-item</text></g>
<g class="t" transform="translate(466.5,1312.25)"><rect class="n w" width="107.5" height="35" rx="3.5"/><text x="4" y="6.2">urn:</text><text x="44" y="6.2">oi:3867</text><text x="4" y="12.6">traverse:</text><text x="44" y="12.6">distance: [1]</text><text x="78" y="12.6">ordinal: 25</text><text x="4" y="19">title::</text><text x="44" y="19">ASIAF_OSTEF: Προφίλ</text><text x="4" y="25.4">ea:identifier:ukey</text><text x="44" y="25.4">rg-opidix-3867</text><text x="4" y="31.8">ea:obj-type:</text><text x="44" y="31.8">digital-item</text></g>
<g class="t" transform="translate(461.3,1353.2)"><rect class="n w" width="118" height="35" rx="3.5"/><text x="4" y="6.2">urn:</text><text x="44" y="6.2">oi:3870</text><text x="4" y="12.6">traverse:</text><text x="44" y="12.6">distance: [1]</text><text x="78" y="12.6">ordinal: 26</text><text x="4" y="19">title::</text><text x="44" y="19" textLength="70" lengthAdjust="spacingAndGlyphs">ASIAF_OSTEF: Παρεμφερόμενα</text><text x="4" y="25.4">ea:identifier:ukey</text><text x="44" y="25.4">rg-opidix-3870</text><text x="4" y="31.8">ea:obj-type:</text><text x="44" y="31.8">digital-item</text></g>
<g class="t" transform="translate(466.5,1394.15)"><rect class="n w" width="107.5" height="35" rx="3.5"/><text x="4" y="6.2">urn:</text><text x="44" y="6.2">oi:3932</text><text x="4" y="12.6">traverse:</text><text x="44" y="12.6">distance: [1]</text><text x="78" y="12.6">ordinal: 27</text><text x="4" y="19">title::</text><text x="44" y="19">ASIAF_OSTEF_VIDEO480p</text><text x="4" y="25.4">ea:identifier:ukey</text><text x="44" y="25.4">rg-opidix-3932</text><text x="4" y="31.8">ea:obj-type:</text><text x="44" y="31.8">digital-item</text></g>
<g class="t" transform="translate(466.5,1435.1)"><rect class="n w" width="107.5" height="35" rx="3.5"/><text x="4" y="6.2">urn:</text><text x="44" y="6.2">oi:3986</text><text x="4" y="12.6">traverse:</text><text x="44" y="12.6">distance: [1]</text><text x="78" y="12.6">ordinal: 28</text><text x="4" y="19">title::</text><text x="44" y="19">opidhx_thumb_ostef.png</text><text x="4" y="25.4">ea:identifier:ukey</text><text x="44" y="25.4">rg-opidix-3986</text><text x="4" y="31.8">ea:obj-type:</text><text x="44" y="31.8">bitstream</text></g>
<g class="t" transform="translate(458.5,1476.05)"><rect class="n w" width="123.5" height="35" rx="3.5"/><text x="4" y="6.2">urn:</text><text x="44" y="6.2">oi:4033</text><text x="4" y="12.6">traverse:</text><text x="44" y="12.6">distance: [1]</text><text x="78" y="12.6">ordinal: 29</text><text x="4" y="19">title::</text><text x="44" y="19" textLength="75.5" lengthAdjust="spacingAndGlyphs">ASIAF_OSTEF: Απομαγνητοφώνηση</text><text x="4" y="25.4">ea:identifier:ukey</text><text x="44" y="25.4">rg-opidix-4033</text><text x="4" y="31.8">ea:obj-type:</text><text x="44" y="31.8">digital-item</text></g>
<g class="t" transform="translate(466.5,1517)"><rect class="n w" width="107.5" height="35" rx="3.5"/><text x="4" y="6.2">urn:</text><text x="44" y="6.2">oi:4124</text><text x="4" y="12.6">traverse:</text><text x="44" y="12.6">distance: [1]</text><text x="78" y="12.6">ordinal: 30</text><text x="4" y="19">title::</text><text x="44" y="19">487_enhanced.jpg</text><text x="4" y="25.4">ea:identifier:ukey</text><text x="44" y="25.4">rg-opidix-4124</text><text x="4" y="31.8">ea:obj-type:</text><text x="44" y="31.8">bitstream</text></g>
<g class="t" transform="translate(879.5,985)"><rect class="n o" width="107.5" height="35" rx="3.5"/><text x="4" y="6.2">urn:</text><text x="44" y="6.2">oi:131</text><text x="4" y="12.6">traverse:</text><text x="44" y="12.6">distance: [1]</text><text x="78" y="12.6">ordinal: 39</text><text x="4" y="19">title::</text><text x="44" y="19">Στεφανίδου, Όλγα</text><text x="4" y="25.4">ea:identifier:ukey</text><text x="44" y="25.4">rg-opidix-131</text><text x="4" y="31.8">ea:obj-type:</text><text x="44" y="31.8">auth-person</text></g>
<g class="t" transform="translate(1133.5,985)"><rect class="n o" width="105.5" height="35" rx="3.5"/><text x="4" y="6.2">urn:</text><text x="44" y="6.2">oi:891</text><text x="4" y="12.6">traverse:</text><text x="44" y="12.6">distance: [1]</text><text x="78" y="12.6">ordinal: 2</text><text x="4" y="19">title::</text><text x="44" y="19">Στεφανίδου, Μαρίνα</text><text x="4" y="25.4">ea:identifier:ukey</text><text x="44" y="25.4">rg-opidix-891</text><text x="4" y="31.8">ea:obj-type:</text><text x="44" y="31.8">auth-person</text></g>
</svg>
</body></html>
